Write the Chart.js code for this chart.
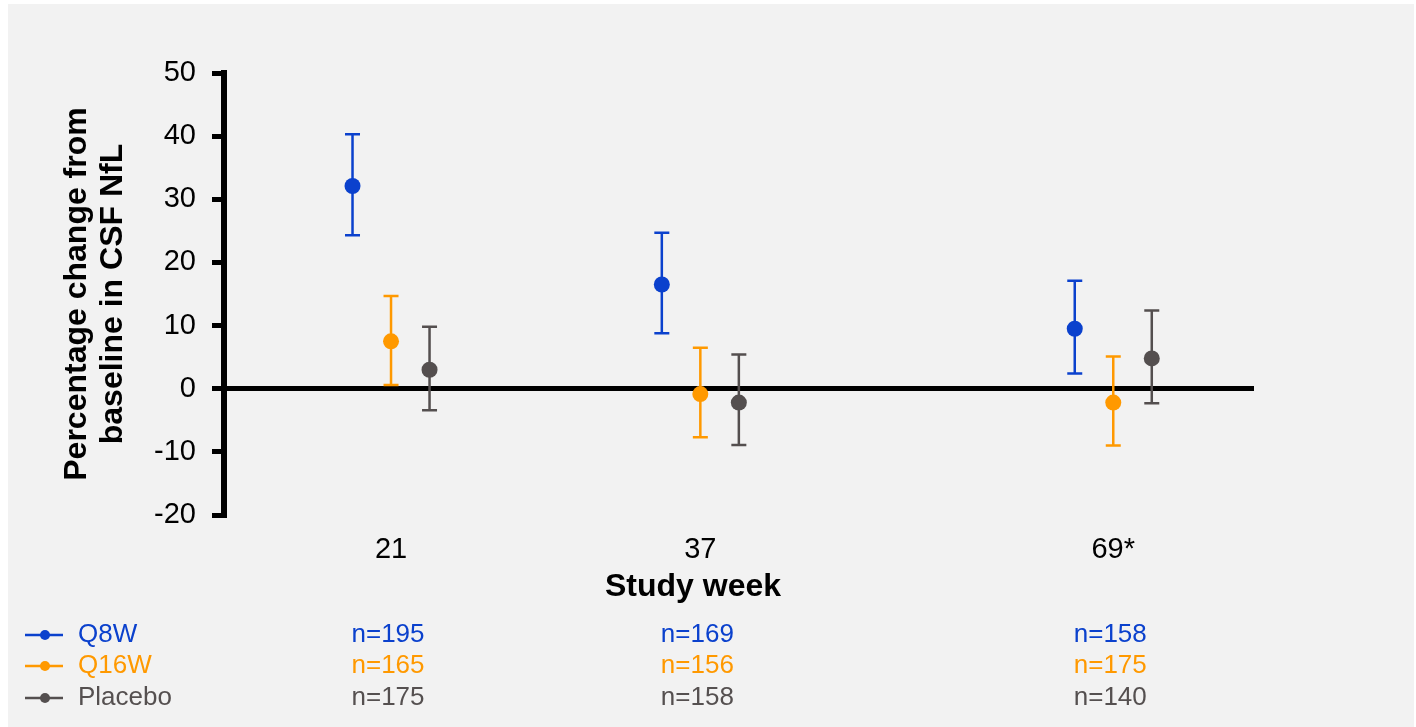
<!DOCTYPE html>
<html>
<head>
<meta charset="utf-8">
<title>CSF NfL change from baseline</title>
<script src="https://cdn.jsdelivr.net/npm/chart.js@4/dist/chart.umd.min.js"></script>
<style>
  html, body { margin: 0; padding: 0; background: #ffffff; }
  #wrap { width: 1416px; height: 727px; }
</style>
</head>
<body>
<div id="wrap"><canvas id="chart" width="1416" height="727"></canvas></div>
<script>
// Study weeks and their slot positions along the x axis
const weekLabels = ['21', '37', '69*'];
const weekSlots = [1, 2, 3.335];

// Mean percentage change with lower / upper bounds, per arm
const q8wMean = [32.1, 16.5, 9.5];
const q8wLow = [24.3, 8.8, 2.4];
const q8wHigh = [40.3, 24.7, 17.1];

const q16wMean = [7.5, -0.85, -2.2];
const q16wLow = [0.6, -7.7, -9.0];
const q16wHigh = [14.7, 6.5, 5.1];

const placeboMean = [3.0, -2.2, 4.8];
const placeboLow = [-3.4, -8.9, -2.3];
const placeboHigh = [9.8, 5.4, 12.4];

// Patients per arm at each week
const q8wN = [195, 169, 158];
const q16wN = [165, 156, 175];
const placeboN = [175, 158, 140];

// Y axis ticks
const yTicks = [-20, -10, 0, 10, 20, 30, 40, 50];

const FONT = "'Liberation Sans', Arial, Helvetica, sans-serif";
const arms = [
  { name: 'Q8W', color: '#0b41cd', textColor: '#0b41cd', mean: q8wMean, low: q8wLow, high: q8wHigh, n: q8wN, shift: -0.1245 },
  { name: 'Q16W', color: '#ff9900', textColor: '#ff9900', mean: q16wMean, low: q16wLow, high: q16wHigh, n: q16wN, shift: 0 },
  { name: 'Placebo', color: '#544f4f', textColor: '#555050', mean: placeboMean, low: placeboLow, high: placeboHigh, n: placeboN, shift: 0.1245 }
];

// Grey panel behind everything
const panelPlugin = {
  id: 'panel',
  beforeDraw(chart) {
    const ctx = chart.ctx;
    ctx.save();
    ctx.fillStyle = '#ffffff';
    ctx.fillRect(0, 0, chart.width, chart.height);
    ctx.fillStyle = '#f2f2f2';
    ctx.fillRect(8, 4, chart.width - 10, chart.height - 4);
    ctx.restore();
  }
};

// Vertical error bars with caps, from each arm's low/high arrays
const errorBarPlugin = {
  id: 'errorBars',
  beforeDatasetsDraw(chart) {
    const ctx = chart.ctx;
    const xs = chart.scales.x, ys = chart.scales.y;
    ctx.save();
    arms.forEach(arm => {
      ctx.strokeStyle = arm.color;
      ctx.lineWidth = 2.5;
      weekSlots.forEach((slot, i) => {
        const px = xs.getPixelForValue(slot + arm.shift);
        const yLo = ys.getPixelForValue(arm.low[i]);
        const yHi = ys.getPixelForValue(arm.high[i]);
        ctx.beginPath();
        ctx.moveTo(px, yLo);
        ctx.lineTo(px, yHi);
        ctx.moveTo(px - 7.5, yHi);
        ctx.lineTo(px + 7.5, yHi);
        ctx.moveTo(px - 7.5, yLo);
        ctx.lineTo(px + 7.5, yLo);
        ctx.stroke();
      });
    });
    ctx.restore();
  }
};

// X axis title, legend rows and sample sizes under each week
const footerPlugin = {
  id: 'footer',
  afterDraw(chart) {
    const ctx = chart.ctx;
    const xs = chart.scales.x;
    ctx.save();
    ctx.fillStyle = '#000000';
    ctx.font = 'bold 32px ' + FONT;
    ctx.textAlign = 'center';
    ctx.textBaseline = 'middle';
    ctx.fillText('Study week', 693, 587);

    const rowY = [635, 666, 698];
    arms.forEach((arm, r) => {
      const y = rowY[r];
      ctx.strokeStyle = arm.color;
      ctx.lineWidth = 2.5;
      ctx.beginPath();
      ctx.moveTo(25, y);
      ctx.lineTo(63, y);
      ctx.stroke();
      ctx.fillStyle = arm.color;
      ctx.beginPath();
      ctx.arc(45, y, 5, 0, Math.PI * 2);
      ctx.fill();

      ctx.font = '26px ' + FONT;
      ctx.textBaseline = 'middle';
      ctx.fillStyle = arm.textColor;
      ctx.textAlign = 'left';
      ctx.fillText(arm.name, 78, y);
      ctx.textAlign = 'center';
      weekSlots.forEach((slot, i) => {
        ctx.fillText('n=' + arm.n[i], xs.getPixelForValue(slot) - 3, y);
      });
    });
    ctx.restore();
  }
};

const datasets = arms.map(arm => ({
  label: arm.name,
  data: weekSlots.map((slot, i) => ({ x: slot + arm.shift, y: arm.mean[i] })),
  showLine: false,
  pointRadius: 8,
  pointHoverRadius: 8,
  pointBackgroundColor: arm.color,
  pointBorderColor: arm.color,
  pointBorderWidth: 0
}));

new Chart(document.getElementById('chart'), {
  type: 'scatter',
  data: { datasets },
  plugins: [panelPlugin, errorBarPlugin, footerPlugin],
  options: {
    responsive: false,
    animation: false,
    events: [],
    layout: { padding: { left: 40, right: 162, top: 73, bottom: 142 } },
    plugins: { legend: { display: false }, tooltip: { enabled: false } },
    scales: {
      x: {
        type: 'linear',
        min: 0.46,
        max: 3.79,
        afterBuildTicks(scale) {
          scale.ticks = weekSlots.map(v => ({ value: v }));
        },
        afterFit(scale) { scale.height = 70; },
        grid: { display: false, drawTicks: false },
        border: { display: false },
        ticks: {
          autoSkip: false,
          maxRotation: 0,
          padding: 18,
          color: '#000000',
          font: { family: FONT, size: 29 },
          callback: (value, index) => weekLabels[index]
        }
      },
      y: {
        min: -20,
        max: 50,
        afterBuildTicks(scale) {
          scale.ticks = yTicks.map(v => ({ value: v }));
        },
        afterFit(scale) { scale.width = 184; },
        border: { display: true, color: '#000000', width: 6 },
        grid: {
          drawOnChartArea: true,
          drawTicks: true,
          tickLength: 12,
          tickWidth: 5,
          tickColor: '#000000',
          lineWidth: 5,
          color: ctx => (ctx.tick && ctx.tick.value === 0 ? '#000000' : 'rgba(0,0,0,0)')
        },
        ticks: {
          padding: 16,
          color: '#000000',
          font: { family: FONT, size: 29 }
        },
        title: {
          display: true,
          text: ['Percentage change from', 'baseline in CSF NfL'],
          color: '#000000',
          font: { family: FONT, size: 32, weight: 'bold', lineHeight: 1.12 },
          padding: { top: 19, bottom: 0 }
        }
      }
    }
  }
});
</script>
</body>
</html>
